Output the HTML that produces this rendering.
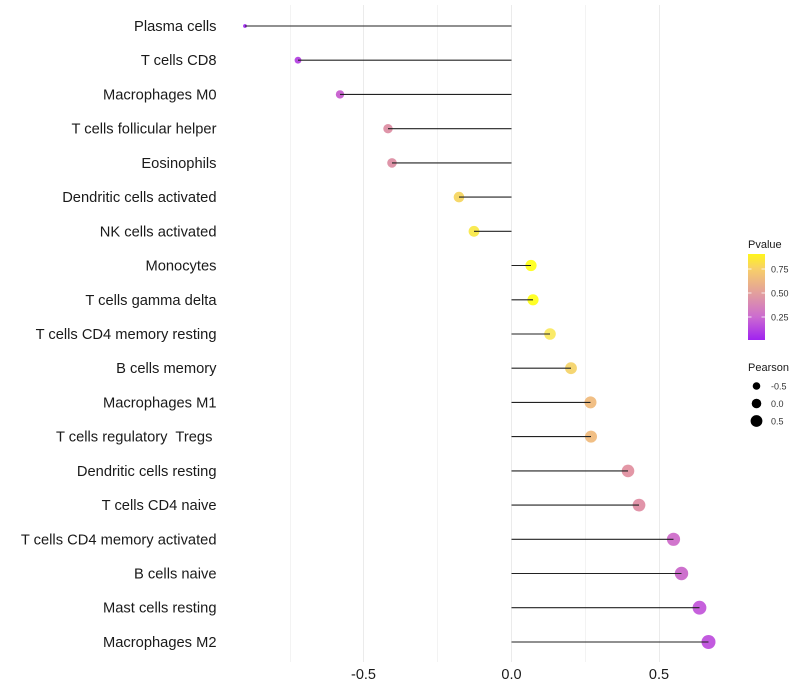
<!DOCTYPE html>
<html><head><meta charset="utf-8"><style>
html,body{margin:0;padding:0;background:#fff;}
svg{display:block;}
text{font-family:"Liberation Sans",Arial,sans-serif;}
</style></head><body>
<svg width="800" height="700" viewBox="0 0 800 700" xmlns="http://www.w3.org/2000/svg">
<rect width="800" height="700" fill="#fff"/>
<!-- minor grid -->
<g stroke="#f3f3f3" stroke-width="1">
<line x1="290.5" y1="5" x2="290.5" y2="662"/>
<line x1="437.5" y1="5" x2="437.5" y2="662"/>
<line x1="585.5" y1="5" x2="585.5" y2="662"/>
</g>
<!-- major grid -->
<g stroke="#ebebeb" stroke-width="1">
<line x1="363.5" y1="5" x2="363.5" y2="662"/>
<line x1="511.5" y1="5" x2="511.5" y2="662"/>
<line x1="659.5" y1="5" x2="659.5" y2="662"/>
</g>
<!-- points -->
<g fill-opacity="0.9">
<circle cx="245" cy="26" r="1.9" fill="#9a1ef0"/>
<circle cx="298" cy="60.2" r="3.4" fill="#b038e0"/>
<circle cx="340" cy="94.4" r="4.2" fill="#c455cc"/>
<circle cx="388" cy="128.7" r="4.7" fill="#dc8aa0"/>
<circle cx="392" cy="162.9" r="4.8" fill="#dc8aa0"/>
<circle cx="459" cy="197.1" r="5.3" fill="#f5d45a"/>
<circle cx="474" cy="231.3" r="5.4" fill="#f8e840"/>
<circle cx="531" cy="265.5" r="5.6" fill="#ffff10"/>
<circle cx="533" cy="299.8" r="5.6" fill="#ffff10"/>
<circle cx="550" cy="334" r="5.8" fill="#f9e858"/>
<circle cx="571" cy="368.2" r="5.9" fill="#f4d264"/>
<circle cx="590.5" cy="402.4" r="6.0" fill="#f0b878"/>
<circle cx="591" cy="436.6" r="6.0" fill="#f0b878"/>
<circle cx="628" cy="470.9" r="6.3" fill="#e08c9c"/>
<circle cx="639" cy="505.1" r="6.4" fill="#de88a0"/>
<circle cx="673.5" cy="539.3" r="6.6" fill="#cc66c8"/>
<circle cx="681.5" cy="573.5" r="6.7" fill="#c860c8"/>
<circle cx="699.5" cy="607.7" r="6.9" fill="#c050d8"/>
<circle cx="708.5" cy="642" r="7.0" fill="#bb48dc"/>
</g>
<!-- segments -->
<g stroke="#222" stroke-width="1.1">
<line x1="511.5" y1="26" x2="245" y2="26"/>
<line x1="511.5" y1="60.2" x2="298" y2="60.2"/>
<line x1="511.5" y1="94.4" x2="340" y2="94.4"/>
<line x1="511.5" y1="128.7" x2="388" y2="128.7"/>
<line x1="511.5" y1="162.9" x2="392" y2="162.9"/>
<line x1="511.5" y1="197.1" x2="459" y2="197.1"/>
<line x1="511.5" y1="231.3" x2="474" y2="231.3"/>
<line x1="511.5" y1="265.5" x2="531" y2="265.5"/>
<line x1="511.5" y1="299.8" x2="533" y2="299.8"/>
<line x1="511.5" y1="334" x2="550" y2="334"/>
<line x1="511.5" y1="368.2" x2="571" y2="368.2"/>
<line x1="511.5" y1="402.4" x2="590.5" y2="402.4"/>
<line x1="511.5" y1="436.6" x2="591" y2="436.6"/>
<line x1="511.5" y1="470.9" x2="628" y2="470.9"/>
<line x1="511.5" y1="505.1" x2="639" y2="505.1"/>
<line x1="511.5" y1="539.3" x2="673.5" y2="539.3"/>
<line x1="511.5" y1="573.5" x2="681.5" y2="573.5"/>
<line x1="511.5" y1="607.7" x2="699.5" y2="607.7"/>
<line x1="511.5" y1="642" x2="708.5" y2="642"/>
</g>
<!-- y labels -->
<g font-size="14.7" fill="#1a1a1a" text-anchor="end">
<text x="216.5" y="31">Plasma cells</text>
<text x="216.5" y="65.2">T cells CD8</text>
<text x="216.5" y="99.4">Macrophages M0</text>
<text x="216.5" y="133.7">T cells follicular helper</text>
<text x="216.5" y="167.9">Eosinophils</text>
<text x="216.5" y="202.1">Dendritic cells activated</text>
<text x="216.5" y="236.3">NK cells activated</text>
<text x="216.5" y="270.5">Monocytes</text>
<text x="216.5" y="304.8">T cells gamma delta</text>
<text x="216.5" y="339">T cells CD4 memory resting</text>
<text x="216.5" y="373.2">B cells memory</text>
<text x="216.5" y="407.4">Macrophages M1</text>
<text x="216.5" y="441.6" xml:space="preserve" style="white-space:pre">T cells regulatory  Tregs </text>
<text x="216.5" y="475.9">Dendritic cells resting</text>
<text x="216.5" y="510.1">T cells CD4 naive</text>
<text x="216.5" y="544.3">T cells CD4 memory activated</text>
<text x="216.5" y="578.5">B cells naive</text>
<text x="216.5" y="612.7">Mast cells resting</text>
<text x="216.5" y="647">Macrophages M2</text>
</g>
<!-- x labels -->
<g font-size="14.5" fill="#1a1a1a" text-anchor="middle">
<text x="363.5" y="679">-0.5</text>
<text x="511.5" y="679">0.0</text>
<text x="659" y="679">0.5</text>
</g>
<!-- legend: Pvalue -->
<defs>
<linearGradient id="pg" x1="0" y1="0" x2="0" y2="1">
<stop offset="0" stop-color="#fff51a"/>
<stop offset="0.17" stop-color="#f8d068"/>
<stop offset="0.45" stop-color="#e3a09c"/>
<stop offset="0.73" stop-color="#cc6cd0"/>
<stop offset="1" stop-color="#a022f0"/>
</linearGradient>
</defs>
<text x="748" y="248" font-size="11" fill="#1a1a1a">Pvalue</text>
<rect x="748" y="254" width="17" height="86" fill="url(#pg)"/>
<g stroke="#fff" stroke-width="1" opacity="0.8">
<line x1="748" y1="269" x2="751.5" y2="269"/><line x1="761.5" y1="269" x2="765" y2="269"/>
<line x1="748" y1="293" x2="751.5" y2="293"/><line x1="761.5" y1="293" x2="765" y2="293"/>
<line x1="748" y1="317" x2="751.5" y2="317"/><line x1="761.5" y1="317" x2="765" y2="317"/>
</g>
<g font-size="9" fill="#333">
<text x="771" y="272.5">0.75</text>
<text x="771" y="296.5">0.50</text>
<text x="771" y="320.5">0.25</text>
</g>
<!-- legend: Pearson -->
<text x="748" y="371" font-size="11" fill="#1a1a1a">Pearson</text>
<circle cx="756.5" cy="386" r="3.8" fill="#000"/>
<circle cx="756.5" cy="403.5" r="4.8" fill="#000"/>
<circle cx="756.5" cy="421" r="5.9" fill="#000"/>
<g font-size="9" fill="#333">
<text x="771" y="389.5">-0.5</text>
<text x="771" y="407">0.0</text>
<text x="771" y="424.5">0.5</text>
</g>
</svg>
</body></html>
